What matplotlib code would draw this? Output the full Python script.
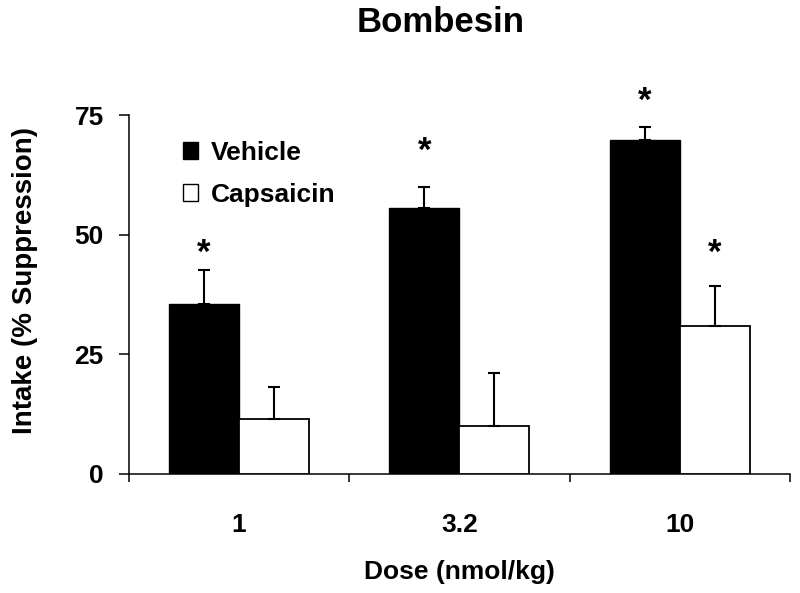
import matplotlib
matplotlib.use("Agg")
import matplotlib.pyplot as plt
import numpy as np
from matplotlib.patches import Patch

# values
doses = ["1", "3.2", "10"]
vehicle = [35.6, 55.6, 69.7]
vehicle_err = [7.0, 4.4, 2.9]
capsaicin = [11.5, 10.0, 31.0]
capsaicin_err = [6.6, 11.1, 8.3]
# significance stars (y position of the star, None = no star)
vehicle_star = [46.2, 67.4, 77.9]
capsaicin_star = [None, None, 46.2]

plt.rcParams['font.family'] = ['Liberation Sans', 'DejaVu Sans']
plt.rcParams['font.weight'] = 'bold'

fig = plt.figure(figsize=(8, 5.93), dpi=100)
ax = fig.add_axes([0.161, 0.2007, 0.8265, 0.6053])

x = np.arange(1, len(doses) + 1)
w = 0.318
err_kw = dict(ecolor='black', elinewidth=1.5, capsize=4, capthick=1.5)

ax.bar(x - w / 2, vehicle, w, color='black', edgecolor='black', linewidth=1,
       yerr=[np.zeros(3), vehicle_err], error_kw=err_kw, zorder=3)
ax.bar(x + w / 2, capsaicin, w, color='white', edgecolor='black', linewidth=1.3,
       yerr=[np.zeros(3), capsaicin_err], error_kw=err_kw, zorder=3)

for i in range(len(doses)):
    if vehicle_star[i] is not None:
        ax.text(x[i] - w / 2, vehicle_star[i], "*", ha='center', va='center',
                fontsize=25, fontweight='bold')
    if capsaicin_star[i] is not None:
        ax.text(x[i] + w / 2, capsaicin_star[i], "*", ha='center', va='center',
                fontsize=25, fontweight='bold')

ax.set_xlim(0.5, 3.5)
ax.set_ylim(0, 75)
ax.set_yticks([0, 25, 50, 75])
ax.set_xticks(x)
ax.set_xticklabels(doses)
ax.set_xticks([0.5, 1.5, 2.5, 3.5], minor=True)
ax.tick_params(axis='x', which='major', length=0, pad=28, labelsize=19)
ax.tick_params(axis='x', which='minor', length=6, width=1.1, direction='out')
ax.tick_params(axis='y', length=7, width=1.1, direction='out', pad=11, labelsize=19)
for s in ['top', 'right']:
    ax.spines[s].set_visible(False)
for s in ['left', 'bottom']:
    ax.spines[s].set_linewidth(1.1)
ax.spines['bottom'].set_bounds(0.5, 3.5)

ax.set_ylabel("Intake (% Suppression)", fontsize=20, fontweight='bold')
ax.yaxis.set_label_coords(-0.137, 0.54)
ax.set_xlabel("Dose (nmol/kg)", fontsize=19, fontweight='bold', labelpad=17)
fig.text(441 / 800, 1 - 22 / 593, "Bombesin", ha='center', va='center',
         fontsize=25, fontweight='bold')

handles = [Patch(facecolor='black', edgecolor='black', linewidth=1),
           Patch(facecolor='white', edgecolor='black', linewidth=1)]
ax.legend(handles, ["Vehicle", "Capsaicin"], loc='upper left',
          bbox_to_anchor=(0.082, 0.929), frameon=False, fontsize=19,
          handlelength=0.55, handleheight=0.6, handletextpad=0.5,
          labelspacing=0.7, borderpad=0, borderaxespad=0)

fig.savefig("out.png", dpi=100)
